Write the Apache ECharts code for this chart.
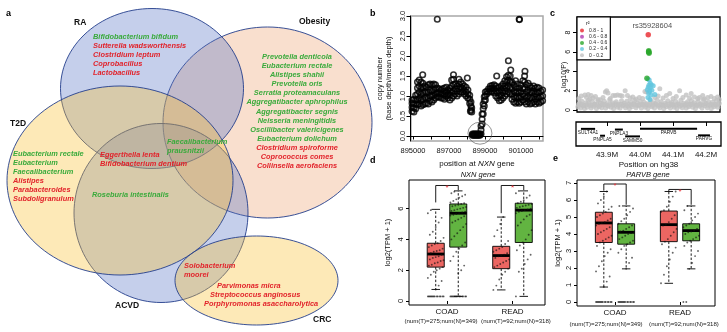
<!DOCTYPE html>
<html><head><meta charset="utf-8">
<script src="https://cdn.jsdelivr.net/npm/echarts@6/dist/echarts.min.js"></script>
<style>html,body{margin:0;padding:0;background:#fff}#c{width:727px;height:332px}</style>
</head><body><div id="c"></div><script>
// ---------------- DATA ----------------
// Panel a: Venn diagram of gut species per disease
const vennSets = ['Obesity', 'RA', 'ACVD', 'T2D', 'CRC'];
const speciesRA = ['Bifidobacterium bifidum', 'Sutterella wadsworthensis', 'Clostridium leptum', 'Coprobacillus', 'Lactobacillus'];
const dirRA = ['g', 'r', 'r', 'r', 'r'];
const speciesObesity = ['Prevotella denticola', 'Eubacterium rectale', 'Alistipes shahii', 'Prevotella oris', 'Serratia proteamaculans', 'Aggregatibacter aphrophilus', 'Aggregatibacter segnis', 'Neisseria meningitidis', 'Oscillibacter valericigenes', 'Eubacterium dolichum', 'Clostridium spiroforme', 'Coprococcus comes', 'Collinsella aerofaciens'];
const dirObesity = ['g', 'g', 'g', 'g', 'g', 'g', 'g', 'g', 'g', 'g', 'r', 'r', 'r'];
const speciesT2D = ['Eubacterium rectale', 'Eubacterium', 'Faecalibacterium', 'Alistipes', 'Parabacteroides', 'Subdoligranulum'];
const dirT2D = ['g', 'g', 'g', 'r', 'r', 'r'];
const speciesRA_T2D_ACVD = ['Eggerthella lenta', 'Bifidobacterium dentium'];
const dirRA_T2D_ACVD = ['r', 'r'];
const speciesShared4 = ['Faecalibacterium', 'prausnitzii'];
const dirShared4 = ['g', 'g'];
const speciesT2D_ACVD = ['Roseburia intestinalis'];
const dirT2D_ACVD = ['g'];
const speciesACVD_CRC = ['Solobacterium', 'moorei'];
const dirACVD_CRC = ['r', 'r'];
const speciesCRC = ['Parvimonas micra', 'Streptococcus anginosus', 'Porphyromonas asaccharolytica'];
const dirCRC = ['r', 'r', 'r'];

// Panel b: copy number along NXN (x position, list of y values read at that x)
const cnvBand = [
  [894950, [0.62, 0.72, 0.82, 0.9]], [895050, [0.6, 0.7, 0.8, 0.92]], [895150, [0.68, 0.8, 0.9, 1.02]],
  [895250, [0.78, 0.9, 1.05, 1.2, 1.35]], [895350, [0.8, 0.95, 1.1, 1.25, 1.4]], [895450, [0.75, 0.9, 1.05, 1.2, 1.35]],
  [895550, [0.78, 0.92, 1.08, 1.22, 1.32]], [895650, [0.8, 0.95, 1.1, 1.25]], [895750, [0.82, 0.95, 1.1, 1.22]],
  [895850, [0.8, 0.95, 1.1, 1.28]], [895950, [0.88, 1.0, 1.15, 1.3]], [896050, [0.85, 1.0, 1.12, 1.28]],
  [896150, [0.9, 1.02, 1.15, 1.3]], [896250, [0.95, 1.05, 1.18, 1.28]], [896350, [0.98, 1.08, 1.2]],
  [896450, [0.98, 1.08, 1.18]], [896550, [0.95, 1.05, 1.15]], [896650, [0.95, 1.05, 1.18]],
  [896750, [0.92, 1.02, 1.12, 1.2]], [896850, [1.0, 1.1, 1.22]], [896950, [0.95, 1.05, 1.15]],
  [897050, [0.9, 1.02, 1.12, 1.2]], [897150, [0.95, 1.1, 1.25, 1.4]], [897250, [1.0, 1.12, 1.28, 1.42]],
  [897350, [1.05, 1.18, 1.3]], [897450, [1.0, 1.12, 1.25]], [897550, [1.05, 1.18, 1.3, 1.42]],
  [897650, [1.1, 1.22, 1.35]], [897750, [1.1, 1.2, 1.3]], [897850, [1.05, 1.15, 1.25]],
  [897950, [1.0, 1.1, 1.22]], [898050, [0.95, 1.05, 1.15]], [898150, [0.82, 0.92, 1.02]],
  [898220, [0.65, 0.75, 0.85]], [898260, [0.6, 0.7]],
  [898300, [0.02, 0.05]], [898360, [0.02, 0.05]], [898420, [0.02, 0.05]], [898480, [0.02, 0.05]],
  [898540, [0.02, 0.05]], [898600, [0.02, 0.05]], [898660, [0.02, 0.05]], [898720, [0.02, 0.05]],
  [898780, [0.05, 0.15, 0.25]], [898840, [0.3, 0.42, 0.55]], [898900, [0.55, 0.68, 0.8]],
  [898960, [0.75, 0.88, 0.98]], [899020, [0.9, 1.0, 1.1]], [899100, [1.05, 1.12]],
  [899200, [1.1, 1.18]], [899300, [1.1, 1.18, 1.25]], [899400, [1.12, 1.2, 1.26]],
  [899500, [1.08, 1.18, 1.28]], [899600, [1.0, 1.12, 1.25]], [899700, [0.95, 1.08, 1.2]],
  [899800, [0.88, 1.0, 1.12, 1.22]], [899900, [0.9, 1.02, 1.15, 1.25]], [900000, [0.95, 1.08, 1.2, 1.3]],
  [900100, [1.0, 1.12, 1.25, 1.38]], [900200, [1.05, 1.2, 1.35, 1.48]], [900300, [1.1, 1.25, 1.4, 1.52]],
  [900400, [1.05, 1.2, 1.35, 1.5]], [900500, [0.92, 1.05, 1.2, 1.35]], [900600, [0.85, 0.98, 1.12, 1.28]],
  [900700, [0.82, 0.95, 1.08, 1.22]], [900800, [0.85, 0.98, 1.12, 1.3]], [900900, [0.82, 0.95, 1.08, 1.2]],
  [901000, [0.85, 0.98, 1.12, 1.28]], [901100, [0.9, 1.05, 1.2, 1.38]], [901200, [0.85, 1.0, 1.18, 1.35, 1.5]],
  [901300, [0.8, 0.95, 1.1, 1.28]], [901400, [0.85, 1.0, 1.15, 1.32]], [901500, [0.8, 0.95, 1.1, 1.25]],
  [901600, [0.82, 0.95, 1.08, 1.2]], [901700, [0.85, 0.98, 1.12, 1.25]], [901800, [0.8, 0.92, 1.05, 1.2]],
  [901900, [0.85, 0.98, 1.1, 1.22]], [902000, [0.82, 0.95, 1.08, 1.2]], [902100, [0.85, 0.98, 1.12]],
  [902200, [0.88, 1.0, 1.15]]
];
const cnvOutliers = [[896350, 2.92], [900900, 2.92], [900915, 2.91], [895540, 1.53], [897250, 1.53], [898020, 1.45],
  [899650, 1.5], [900300, 1.88], [900430, 1.65], [901220, 1.62], [900700, 1.38], [898190, 0.62]];
const cnvHighlight = [[898720, 0.07]];
const bTickValues = [895000, 896000, 897000, 898000, 899000, 900000, 901000, 902000];
const bLabelValues = [895000, 897000, 899000, 901000];
const bYTicks = [0, 0.5, 1, 1.5, 2, 2.5, 3];

// Panel c: regional association (position in Mb, -log10 P)
const cRed = [[44.025, 7.75]];
const cPurple = [];
const cGreen = [[44.0265, 6.1], [44.027, 5.95], [44.0275, 5.85], [44.026, 6.0], [44.021, 3.27]];
const cCyan = [[44.024, 3.2], [44.028, 3.1], [44.031, 2.75], [44.027, 2.55], [44.034, 2.6], [44.025, 2.35],
  [44.031, 2.3], [44.036, 2.05], [44.029, 1.95], [44.026, 1.75], [44.033, 1.55], [44.024, 1.3], [44.03, 1.1],
  [44.04, 2.5], [44.022, 2.1], [44.045, 1.6]];
const cGrey = [
  [43.812, 0.35], [43.816, 0.7], [43.820, 0.2], [43.824, 0.9], [43.828, 0.45], [43.832, 0.15], [43.836, 0.75], [43.840, 0.3],
  [43.844, 1.0], [43.848, 0.5], [43.852, 0.2], [43.856, 0.85], [43.860, 0.4], [43.864, 0.6], [43.868, 0.15], [43.872, 0.95],
  [43.876, 0.35], [43.880, 0.7], [43.884, 0.25], [43.888, 0.55], [43.892, 0.9], [43.896, 0.2], [43.900, 0.65], [43.904, 0.4],
  [43.908, 1.05], [43.912, 0.3], [43.916, 0.75], [43.920, 0.15], [43.924, 0.5], [43.928, 0.85], [43.932, 0.3], [43.936, 0.6],
  [43.940, 0.2], [43.944, 0.95], [43.948, 0.45], [43.952, 0.7], [43.956, 0.25], [43.960, 0.9], [43.964, 0.4], [43.968, 0.15],
  [43.972, 0.8], [43.976, 0.35], [43.980, 0.6], [43.984, 1.0], [43.988, 0.25], [43.992, 0.7], [43.996, 0.45], [44.000, 0.9],
  [44.004, 0.2], [44.008, 0.55], [44.012, 0.8], [44.016, 0.3], [44.020, 0.65], [44.024, 0.15], [44.028, 0.5], [44.032, 0.95],
  [44.036, 0.35], [44.040, 0.75], [44.044, 0.2], [44.048, 0.6], [44.052, 1.0], [44.056, 0.4], [44.060, 0.25], [44.064, 0.85],
  [44.068, 0.5], [44.072, 0.15], [44.076, 0.7], [44.080, 0.35], [44.084, 0.95], [44.088, 0.45], [44.092, 0.2], [44.096, 0.8],
  [44.100, 0.55], [44.104, 0.3], [44.108, 0.9], [44.112, 0.15], [44.116, 0.65], [44.120, 0.4], [44.124, 1.0], [44.128, 0.25],
  [44.132, 0.7], [44.136, 0.5], [44.140, 0.2], [44.144, 0.85], [44.148, 0.35], [44.152, 0.6], [44.156, 0.95], [44.160, 0.3],
  [44.164, 0.75], [44.168, 0.15], [44.172, 0.5], [44.176, 0.9], [44.180, 0.4], [44.184, 0.65], [44.188, 0.2], [44.192, 1.05],
  [44.196, 0.45], [44.200, 0.7], [44.204, 0.25], [44.208, 0.85], [44.212, 0.5], [44.216, 0.15], [44.220, 0.8], [44.224, 0.35],
  [44.228, 0.6], [44.232, 0.95], [44.236, 0.3], [44.240, 0.7],
  [43.814, 0.55], [43.822, 0.6], [43.830, 0.5], [43.838, 0.55], [43.846, 0.65], [43.854, 0.5], [43.862, 0.6], [43.870, 0.55],
  [43.878, 0.5], [43.886, 0.65], [43.894, 0.55], [43.902, 0.5], [43.910, 0.6], [43.918, 0.55], [43.926, 0.65], [43.934, 0.5],
  [43.942, 0.6], [43.950, 0.55], [43.958, 0.5], [43.966, 0.6], [43.974, 0.55], [43.982, 0.65], [43.990, 0.5], [43.998, 0.55],
  [44.006, 0.6], [44.014, 0.5], [44.022, 0.55], [44.030, 0.6], [44.038, 0.5], [44.046, 0.65], [44.054, 0.55], [44.062, 0.6],
  [44.070, 0.5], [44.078, 0.55], [44.086, 0.6], [44.094, 0.65], [44.102, 0.5], [44.110, 0.55], [44.118, 0.6], [44.126, 0.5],
  [44.134, 0.55], [44.142, 0.65], [44.150, 0.5], [44.158, 0.6], [44.166, 0.55], [44.174, 0.5], [44.182, 0.6], [44.190, 0.55],
  [44.198, 0.65], [44.206, 0.5], [44.214, 0.6], [44.222, 0.55], [44.230, 0.5], [44.238, 0.6], [44.244, 0.45],
  [43.815, 1.2], [43.822, 1.45], [43.833, 1.55], [43.838, 1.3], [43.843, 1.6], [43.848, 1.15], [43.852, 1.5], [43.858, 1.25],
  [43.865, 1.4], [43.873, 1.1], [43.880, 1.05], [43.888, 1.3], [43.895, 1.85], [43.899, 2.0], [43.903, 1.75], [43.910, 1.2],
  [43.918, 1.5], [43.925, 1.5], [43.932, 1.55], [43.940, 1.5], [43.946, 1.45], [43.955, 2.0], [43.962, 1.5], [43.970, 1.25],
  [43.978, 1.35], [43.988, 1.15], [43.998, 1.3], [44.008, 1.2], [44.015, 1.9], [44.020, 1.85], [44.045, 1.3], [44.055, 1.45],
  [44.060, 2.2], [44.070, 1.25], [44.080, 1.5], [44.090, 1.7], [44.100, 1.2], [44.110, 1.4], [44.120, 2.0], [44.130, 1.3],
  [44.140, 1.55], [44.150, 1.25], [44.155, 1.7], [44.165, 1.35], [44.175, 1.2], [44.180, 1.3], [44.190, 1.5], [44.195, 1.15],
  [44.205, 1.3], [44.215, 1.4], [44.225, 1.2], [44.235, 1.35], [44.240, 1.1]
];
const r2Bins = ['0.8 - 1', '0.6 - 0.8', '0.4 - 0.6', '0.2 - 0.4', '0 - 0.2'];
const leadSnp = 'rs35928604';
const cYTicks = [0, 2, 4, 6, 8];
const genes = ['SULT4A1', 'PNPLA5', 'PNPLA3', 'SAMM50', 'PARVB', 'PARVG'];
const geneStart = [43.821, 43.879, 43.924, 43.955, 44.000, 44.176];
const geneEnd = [43.864, 43.894, 43.948, 44.000, 44.173, 44.212];
const geneRow = [1, 2, 1.1, 2.1, 1, 1.95];
const cXTicks = [43.9, 44.0, 44.1, 44.2];

// Panels d, e: expression boxplots (min, Q1, median, Q3, max)
const cancers = ['COAD', 'READ'];
const sampleNotes = ['(num(T)=275;num(N)=349)', '(num(T)=92;num(N)=318)'];
const nxnBox = { COAD_T: [0.75, 2.2, 3.05, 3.75, 5.95], COAD_N: [0.3, 3.5, 5.7, 6.3, 7.15],
                 READ_T: [0.72, 2.1, 2.95, 3.55, 5.45], READ_N: [0.3, 3.8, 5.9, 6.35, 7.15] };
const parvbBox = { COAD_T: [0.88, 3.5, 4.65, 5.28, 6.5], COAD_N: [1.95, 3.4, 4.1, 4.6, 5.65],
                   READ_T: [1.1, 3.55, 4.55, 5.35, 6.5], READ_N: [1.95, 3.6, 4.2, 4.6, 5.65] };
const nxnCoadT = [0.3,0.3,0.3,0.3,0.3,0.3,0.3,0.3,0.3,0.3,0.3,0.3,0.3,0.3, 0.75,1.0,1.3,1.5,1.7,1.9,2.0,2.1,2.2,2.3,2.35,2.45,2.5,2.6,2.65,2.7,2.8,2.85,2.9,3.0,3.05,3.1,3.2,3.25,3.3,3.4,3.5,3.6,3.7,3.75,3.9,4.1,4.3,4.5,4.8,5.1,5.4,5.7,5.9];
const nxnCoadN = [0.3,0.3,0.3,0.3,0.3,0.3,0.3,0.3,0.3,0.3,0.3,0.3,0.3,0.3, 1.8,2.0,2.3,2.6,2.9,3.2,3.4,3.6,3.8,4.0,4.2,4.4,4.6,4.8,5.0,5.1,5.2,5.3,5.4,5.5,5.55,5.6,5.65,5.7,5.75,5.8,5.85,5.9,5.95,6.0,6.05,6.1,6.15,6.2,6.25,6.3,6.35,6.4,6.5,6.6,6.7,6.8,6.9,7.0,7.1];
const nxnReadT = [0.72,1.0,1.4,1.7,1.9,2.1,2.2,2.3,2.4,2.5,2.6,2.7,2.8,2.9,2.95,3.0,3.1,3.2,3.3,3.4,3.5,3.7,3.9,4.2,4.6,5.0,5.45];
const nxnReadN = [0.3,1.9,2.1,2.4,2.7,3.0,3.3,3.6,3.8,4.0,4.3,4.6,4.9,5.1,5.3,5.5,5.6,5.7,5.8,5.85,5.9,5.95,6.0,6.05,6.1,6.15,6.2,6.25,6.3,6.35,6.45,6.55,6.7,6.85,7.0,7.15];
const parvbCoadT = [0,0,0,0,0,0,0,0,0,0,0,0,0,0, 0.88,1.2,1.5,1.8,2.1,2.4,2.7,2.9,3.1,3.3,3.5,3.6,3.7,3.8,3.9,4.0,4.1,4.2,4.3,4.4,4.5,4.6,4.65,4.7,4.8,4.9,5.0,5.1,5.2,5.3,5.45,5.6,5.8,6.0,6.2,6.5];
const parvbCoadN = [0,0,0,0,0,0,0,0,0,0,0,0,0,0, 1.95,2.3,2.6,2.9,3.1,3.3,3.4,3.5,3.6,3.7,3.8,3.9,4.0,4.05,4.1,4.15,4.2,4.3,4.4,4.5,4.6,4.75,4.9,5.1,5.3,5.5,5.65];
const parvbReadT = [1.1,1.6,2.1,2.5,2.9,3.2,3.4,3.55,3.7,3.9,4.1,4.3,4.5,4.55,4.7,4.9,5.1,5.3,5.4,5.6,5.9,6.2,6.5];
const parvbReadN = [0,0,1.95,2.3,2.7,3.0,3.3,3.5,3.6,3.7,3.8,3.9,4.0,4.1,4.15,4.2,4.3,4.4,4.5,4.6,4.8,5.0,5.2,5.4,5.65];
// significance brackets: [tumour leg end, bracket height, normal leg end]
const nxnSig = { COAD: [6.4, 7.5, 7.2], READ: [5.7, 7.5, 7.2] };
const parvbSig = { COAD: [6.55, 6.94, 5.72], READ: [6.5, 6.62, 5.72] };

// ---------------- LAYOUT / STYLE ----------------
const FF = "'Liberation Sans', Arial, Helvetica, sans-serif";
const GREEN = '#3aab3c', RED = '#e2232b';
const vennLayout = {
  cx: [267.5, 152, 161, 120, 256.5], cy: [122.5, 88.5, 213, 180.5, 280.5],
  rx: [104.5, 91.5, 87, 113, 81.5], ry: [95.5, 80, 89.5, 94.5, 44.5],
  fill: ['rgba(238,160,112,0.34)', 'rgba(84,115,195,0.34)', 'rgba(84,115,195,0.34)', 'rgba(249,192,50,0.35)', 'rgba(249,192,50,0.35)'],
  setLabel: { Obesity: [299, 22], RA: [74, 23], ACVD: [115, 306], T2D: [10, 124], CRC: [313, 320] }
};
const vennTextGroups = [
  { names: speciesRA, dir: dirRA, x: 93, y: 37, step: 9, align: 'left' },
  { names: speciesObesity, dir: dirObesity, x: 297, y: 57, step: 9.08, align: 'center' },
  { names: speciesT2D, dir: dirT2D, x: 13, y: 154, step: 9, align: 'left' },
  { names: speciesRA_T2D_ACVD, dir: dirRA_T2D_ACVD, x: 100, y: 155, step: 9, align: 'left' },
  { names: speciesShared4, dir: dirShared4, x: 167, y: 142, step: 9, align: 'left' },
  { names: speciesT2D_ACVD, dir: dirT2D_ACVD, x: 92, y: 195, step: 9, align: 'left' },
  { names: speciesACVD_CRC, dir: dirACVD_CRC, x: 184, y: 266, step: 8.7, align: 'left' },
  { names: speciesCRC, dir: dirCRC, xs: [217, 210, 204], y: 286, step: 9, align: 'left' }
];
const vennTexts = [];
vennTextGroups.forEach(g => g.names.forEach((n, i) => vennTexts.push({
  x: g.xs ? g.xs[i] : g.x, y: g.y + i * g.step, text: n, color: g.dir[i] === 'g' ? GREEN : RED,
  align: g.align, species: true })));
vennSets.forEach(s => vennTexts.push({ x: vennLayout.setLabel[s][0], y: vennLayout.setLabel[s][1], text: s,
  color: '#111', align: 'left', species: false }));
// pixel placement of the sample-size notes under panels d and e
const noteLayout = { d: { dx: [-6, 3.5], y: 321 }, e: { dx: [-9, 4], y: 324 } };

const cnvPoints = [];
cnvBand.forEach(([x, ys]) => ys.forEach(y => cnvPoints.push([x, y])));
cnvOutliers.forEach(p => cnvPoints.push(p));

const TUM = '#ec6662', NOR = '#62b441';
function jitter(values, center, jw) {
  return values.map((v, i) => [center + (((i * 37) % 17) / 16 - 0.5) * 2 * jw, v]);
}
const off = 0.172;
function boxData(stats) {
  return [[1 - off, ...stats.COAD_T, 0], [1 + off, ...stats.COAD_N, 1],
          [2 - off, ...stats.READ_T, 0], [2 + off, ...stats.READ_N, 1]];
}
function sigData(sig) {
  return [[1 - off, 1 + off, ...sig.COAD], [2 - off, 2 + off, ...sig.READ]];
}
function boxRender(halfW) {
  return function (params, api) {
    const x = api.value(0), mn = api.value(1), q1 = api.value(2), md = api.value(3), q3 = api.value(4), mx = api.value(5);
    const kind = api.value(6);
    const c = (a, b) => api.coord([a, b]);
    const ln = (p1, p2, st) => ({ type: 'line', shape: { x1: p1[0], y1: p1[1], x2: p2[0], y2: p2[1] }, style: st });
    const cap = halfW * 0.5;
    const A = c(x - halfW, q3), B = c(x + halfW, q1);
    return { type: 'group', children: [
      ln(c(x, q3), c(x, mx), { stroke: '#000', lineWidth: 0.9, lineDash: [2.4, 1.8] }),
      ln(c(x, q1), c(x, mn), { stroke: '#000', lineWidth: 0.9, lineDash: [2.4, 1.8] }),
      ln(c(x - cap, mx), c(x + cap, mx), { stroke: '#000', lineWidth: 0.9 }),
      ln(c(x - cap, mn), c(x + cap, mn), { stroke: '#000', lineWidth: 0.9 }),
      { type: 'rect', shape: { x: A[0], y: A[1], width: B[0] - A[0], height: B[1] - A[1] },
        style: { fill: kind ? NOR : TUM, stroke: '#000', lineWidth: 0.9 } },
      ln(c(x - halfW, md), c(x + halfW, md), { stroke: '#000', lineWidth: 2.8 })
    ] };
  };
}
function sigRender(params, api) {
  const x1 = api.value(0), x2 = api.value(1), l = api.value(2), top = api.value(3), r = api.value(4);
  const p = [api.coord([x1, l]), api.coord([x1, top]), api.coord([x2, top]), api.coord([x2, r])];
  const m = api.coord([(x1 + x2) / 2, top]);
  return { type: 'group', children: [
    { type: 'polyline', shape: { points: p }, style: { stroke: '#000', lineWidth: 0.9, fill: null } },
    { type: 'text', x: m[0], y: m[1] + 2.2, style: { text: '*', fill: '#e8333a', fontSize: 8, fontFamily: FF, align: 'center', verticalAlign: 'middle' } }
  ] };
}
function noteRender(layout) {
  return function (params, api) {
    const i = params.dataIndex;
    const p = api.coord([api.value(0), api.value(1)]);
    return { type: 'text', x: p[0] + layout.dx[i], y: layout.y, style: { text: sampleNotes[i], fill: '#222',
      fontSize: 6.1, fontFamily: FF, align: 'center', verticalAlign: 'middle' } };
  };
}
const noSplit = { show: false };
const lbl = (o) => Object.assign({ color: '#111', fontSize: 7.5, fontFamily: FF }, o);

const chart = echarts.init(document.getElementById('c'), null, { renderer: 'canvas', width: 727, height: 332 });
const base = { containLabel: false, outerBoundsMode: 'none' };
const catAxisLabel = { customValues: [1, 2], margin: 3, showMinLabel: true, showMaxLabel: true,
  formatter: v => cancers[Math.round(v) - 1], color: '#111', fontSize: 8, fontFamily: FF };
const option = {
  animation: false,
  textStyle: { fontFamily: FF },
  title: [
    { text: 'a', left: 6, top: 9, padding: 0, textStyle: { fontSize: 9, fontWeight: 'bold', color: '#000', fontFamily: FF } },
    { text: 'b', left: 370, top: 9, padding: 0, textStyle: { fontSize: 9, fontWeight: 'bold', color: '#000', fontFamily: FF } },
    { text: 'c', left: 550, top: 9, padding: 0, textStyle: { fontSize: 9, fontWeight: 'bold', color: '#000', fontFamily: FF } },
    { text: 'd', left: 370, top: 156, padding: 0, textStyle: { fontSize: 9, fontWeight: 'bold', color: '#000', fontFamily: FF } },
    { text: 'e', left: 553, top: 154, padding: 0, textStyle: { fontSize: 9, fontWeight: 'bold', color: '#000', fontFamily: FF } },
    { text: 'NXN gene', left: 478, top: 171, padding: 0, textAlign: 'center', textStyle: { fontSize: 7.5, fontStyle: 'italic', fontWeight: 'normal', color: '#111', fontFamily: FF } },
    { text: 'PARVB gene', left: 648, top: 171, padding: 0, textAlign: 'center', textStyle: { fontSize: 7.5, fontStyle: 'italic', fontWeight: 'normal', color: '#111', fontFamily: FF } }
  ],
  legend: {
    data: r2Bins, orient: 'vertical', left: 577, top: 17, padding: [11, 3, 2, 3], itemGap: 1.2,
    itemWidth: 4, itemHeight: 4, itemTextGap: 2.5, icon: 'circle', selectedMode: false,
    textStyle: { fontSize: 5, lineHeight: 5, color: '#222', fontFamily: FF },
    borderColor: '#000', borderWidth: 1.2, backgroundColor: '#fff', borderRadius: 0
  },
  graphic: [
    { type: 'text', x: 586, y: 23, z: 100, style: { text: 'r²', fontSize: 5.5, fill: '#111', fontFamily: FF, align: 'left', verticalAlign: 'middle' } },
    { type: 'text', x: 564, y: 77, z: 100, rotation: Math.PI / 2, style: { text: '- log10(P)', fontSize: 7, fill: '#111', fontFamily: FF, align: 'center', verticalAlign: 'middle' } }
  ],
  grid: [
    Object.assign({ left: 0, top: 0, width: 372, height: 332 }, base),
    Object.assign({ left: 411, top: 16, width: 132, height: 125, show: true, borderColor: '#a8a8a8', borderWidth: 1.5 }, base),
    Object.assign({ left: 577, top: 17, width: 143, height: 95, show: true, borderColor: '#000', borderWidth: 1.3 }, base),
    Object.assign({ left: 576, top: 122, width: 145, height: 24, show: true, borderColor: '#000', borderWidth: 1.3 }, base),
    Object.assign({ left: 409, top: 180, width: 136, height: 125, show: true, borderColor: '#000', borderWidth: 1 }, base),
    Object.assign({ left: 577, top: 180, width: 138, height: 126, show: true, borderColor: '#000', borderWidth: 1 }, base)
  ],
  xAxis: [
    { gridIndex: 0, type: 'value', min: 0, max: 372, show: false },
    { gridIndex: 1, type: 'value', min: 894890, max: 902222, offset: 3, splitLine: noSplit,
      axisLine: { show: true, lineStyle: { color: '#000', width: 1 } },
      axisTick: { show: true, length: 3.5, customValues: bTickValues, lineStyle: { color: '#000' } },
      axisLabel: lbl({ customValues: bLabelValues, margin: 3, formatter: v => String(v) }),
      name: '{n|position at }{i|NXN}{n| gene}', nameLocation: 'middle', nameGap: 16,
      nameTextStyle: { rich: { n: { fontSize: 8, fontFamily: FF, color: '#111' }, i: { fontSize: 8, fontStyle: 'italic', fontFamily: FF, color: '#111' } } } },
    { gridIndex: 2, type: 'value', min: 43.80909, max: 44.24242, show: false },
    { gridIndex: 3, type: 'value', min: 43.80606, max: 44.24545, splitLine: noSplit,
      axisLine: { show: false },
      axisTick: { show: true, length: 4, customValues: cXTicks, lineStyle: { color: '#000', width: 1 } },
      axisLabel: lbl({ customValues: cXTicks, fontSize: 8, margin: 5, formatter: v => v.toFixed(1) + 'M' }),
      name: 'Position on hg38', nameLocation: 'middle', nameGap: 15, nameTextStyle: { fontSize: 8, fontFamily: FF, color: '#111' } },
    { gridIndex: 4, type: 'value', min: 0.41985, max: 2.4962, splitLine: noSplit, axisLine: { show: false },
      axisTick: { show: true, length: 3, customValues: [1, 2], lineStyle: { color: '#000' } },
      axisLabel: catAxisLabel },
    { gridIndex: 5, type: 'value', min: 0.4154, max: 2.5385, splitLine: noSplit, axisLine: { show: false },
      axisTick: { show: true, length: 3, customValues: [1, 2], lineStyle: { color: '#000' } },
      axisLabel: catAxisLabel }
  ],
  yAxis: [
    { gridIndex: 0, type: 'value', min: 0, max: 332, inverse: true, show: false },
    { gridIndex: 1, type: 'value', min: -0.125, max: 3.0, offset: 1, splitLine: noSplit,
      axisLine: { show: true, lineStyle: { color: '#000', width: 1 } },
      axisTick: { show: true, length: 3.5, customValues: bYTicks, lineStyle: { color: '#000' } },
      axisLabel: lbl({ customValues: bYTicks, rotate: 90, margin: 3, formatter: v => v.toFixed(1) }),
      name: 'copy number\n(base depth/mean depth)', nameLocation: 'middle', nameRotate: 90, nameGap: 17,
      nameTextStyle: { fontSize: 7.5, lineHeight: 8.5, fontFamily: FF, color: '#111' } },
    { gridIndex: 2, type: 'value', min: -0.2, max: 9.59, splitLine: noSplit, axisLine: { show: false },
      axisTick: { show: true, length: 4, customValues: cYTicks, lineStyle: { color: '#000' } },
      axisLabel: lbl({ customValues: cYTicks, rotate: 90, margin: 5, fontSize: 7 }) },
    { gridIndex: 3, type: 'value', min: 0, max: 3.5, inverse: true, show: false },
    { gridIndex: 4, type: 'value', min: -0.26, max: 7.857, splitLine: noSplit, axisLine: { show: false },
      axisTick: { show: true, length: 3, customValues: [0, 2, 4, 6], lineStyle: { color: '#000' } },
      axisLabel: lbl({ customValues: [0, 2, 4, 6], rotate: 90, margin: 4 }),
      name: 'log2(TPM + 1)', nameLocation: 'middle', nameRotate: 90, nameGap: 17,
      nameTextStyle: { fontSize: 7.5, fontFamily: FF, color: '#111' } },
    { gridIndex: 5, type: 'value', min: -0.235, max: 7.176, splitLine: noSplit, axisLine: { show: false },
      axisTick: { show: true, length: 3, customValues: [0, 1, 2, 3, 4, 5, 6, 7], lineStyle: { color: '#000' } },
      axisLabel: lbl({ customValues: [0, 1, 2, 3, 4, 5, 6, 7], rotate: 90, margin: 4 }),
      name: 'log2(TPM + 1)', nameLocation: 'middle', nameRotate: 90, nameGap: 15,
      nameTextStyle: { fontSize: 7.5, fontFamily: FF, color: '#111' } }
  ],
  series: [
    { type: 'custom', name: 'venn', xAxisIndex: 0, yAxisIndex: 0, silent: true, clip: false,
      data: vennSets.map((s, i) => [vennLayout.cx[i], vennLayout.cy[i], vennLayout.rx[i], vennLayout.ry[i], i]),
      renderItem: function (params, api) {
        const cx = api.value(0), cy = api.value(1), rx = api.value(2), ry = api.value(3);
        const pts = [];
        for (let k = 0; k < 120; k++) {
          const t = k / 120 * 2 * Math.PI;
          pts.push(api.coord([cx + rx * Math.cos(t), cy + ry * Math.sin(t)]));
        }
        return { type: 'polygon', shape: { points: pts },
          style: { fill: vennLayout.fill[api.value(4)], stroke: 'rgba(35,62,140,0.9)', lineWidth: 1 } };
      } },
    { type: 'custom', name: 'vennText', xAxisIndex: 0, yAxisIndex: 0, silent: true, clip: false, z: 5,
      data: vennTexts.map(t => [t.x, t.y]),
      renderItem: function (params, api) {
        const t = vennTexts[params.dataIndex];
        const p = api.coord([api.value(0), api.value(1)]);
        return { type: 'text', x: p[0], y: p[1], style: { text: t.text, fill: t.color, fontFamily: FF,
          fontSize: t.species ? 7.4 : 8.5, fontStyle: t.species ? 'italic' : 'normal', fontWeight: 'bold',
          align: t.align, verticalAlign: 'middle' } };
      } },
    { type: 'scatter', name: 'cnv', xAxisIndex: 1, yAxisIndex: 1, data: cnvPoints, symbol: 'circle', symbolSize: 5.5,
      itemStyle: { color: 'rgba(255,255,255,0)', borderColor: '#000', borderWidth: 1.6 }, silent: true },
    { type: 'scatter', name: 'deletion', xAxisIndex: 1, yAxisIndex: 1, data: cnvHighlight, symbol: 'circle',
      symbolSize: [24, 22], clip: false, itemStyle: { color: 'rgba(255,255,255,0)', borderColor: '#555', borderWidth: 0.8 }, silent: true },
    { type: 'scatter', name: r2Bins[4], xAxisIndex: 2, yAxisIndex: 2, data: cGrey, symbolSize: 5, itemStyle: { color: '#c2c2c2' }, silent: true },
    { type: 'scatter', name: r2Bins[3], xAxisIndex: 2, yAxisIndex: 2, data: cCyan, symbolSize: 5, itemStyle: { color: '#62c6de' }, silent: true },
    { type: 'scatter', name: r2Bins[1], xAxisIndex: 2, yAxisIndex: 2, data: cPurple, symbolSize: 5, itemStyle: { color: '#b03bb0' }, silent: true },
    { type: 'scatter', name: r2Bins[2], xAxisIndex: 2, yAxisIndex: 2, data: cGreen, symbolSize: 5.5, itemStyle: { color: '#2aa72c' }, silent: true },
    { type: 'scatter', name: r2Bins[0], xAxisIndex: 2, yAxisIndex: 2, data: cRed, symbolSize: 5.5, itemStyle: { color: '#e8262c' }, silent: true,
      label: { show: true, position: 'top', distance: 2, offset: [4, 0], formatter: leadSnp, fontSize: 7.5, color: '#222', fontFamily: FF } },
    { type: 'custom', name: 'genes', xAxisIndex: 3, yAxisIndex: 3, silent: true, clip: false,
      data: genes.map((g, i) => [geneStart[i], geneEnd[i], geneRow[i]]),
      renderItem: function (params, api) {
        const s = api.coord([api.value(0), api.value(2)]), e = api.coord([api.value(1), api.value(2)]);
        return { type: 'group', children: [
          { type: 'line', shape: { x1: s[0], y1: s[1], x2: e[0], y2: e[1] }, style: { stroke: '#000', lineWidth: 2 } },
          { type: 'text', x: (s[0] + e[0]) / 2, y: s[1] + 1.3, style: { text: genes[params.dataIndex], fill: '#111',
            fontSize: 4.8, fontFamily: FF, align: 'center', verticalAlign: 'top' } }
        ] };
      } },
    // panel d
    { type: 'custom', name: 'nxnBox', xAxisIndex: 4, yAxisIndex: 4, silent: true, data: boxData(nxnBox), renderItem: boxRender(0.13) },
    { type: 'scatter', name: 'nxnPts', xAxisIndex: 4, yAxisIndex: 4, silent: true, symbolSize: 1.9,
      itemStyle: { color: 'rgba(15,15,15,0.8)' },
      data: [].concat(jitter(nxnCoadT, 1 - off, 0.12), jitter(nxnCoadN, 1 + off, 0.12), jitter(nxnReadT, 2 - off, 0.12), jitter(nxnReadN, 2 + off, 0.12)) },
    { type: 'custom', name: 'nxnSig', xAxisIndex: 4, yAxisIndex: 4, silent: true, clip: false, data: sigData(nxnSig), renderItem: sigRender },
    { type: 'custom', name: 'nxnNotes', xAxisIndex: 4, yAxisIndex: 4, silent: true, clip: false, data: [[1, 0], [2, 0]], renderItem: noteRender(noteLayout.d) },
    // panel e
    { type: 'custom', name: 'parvbBox', xAxisIndex: 5, yAxisIndex: 5, silent: true, data: boxData(parvbBox), renderItem: boxRender(0.13) },
    { type: 'scatter', name: 'parvbPts', xAxisIndex: 5, yAxisIndex: 5, silent: true, symbolSize: 1.9,
      itemStyle: { color: 'rgba(15,15,15,0.8)' },
      data: [].concat(jitter(parvbCoadT, 1 - off, 0.12), jitter(parvbCoadN, 1 + off, 0.12), jitter(parvbReadT, 2 - off, 0.12), jitter(parvbReadN, 2 + off, 0.12)) },
    { type: 'custom', name: 'parvbSig', xAxisIndex: 5, yAxisIndex: 5, silent: true, clip: false, data: sigData(parvbSig), renderItem: sigRender },
    { type: 'custom', name: 'parvbNotes', xAxisIndex: 5, yAxisIndex: 5, silent: true, clip: false, data: [[1, 0], [2, 0]], renderItem: noteRender(noteLayout.e) }
  ]
};
chart.setOption(option);
</script></body></html>
